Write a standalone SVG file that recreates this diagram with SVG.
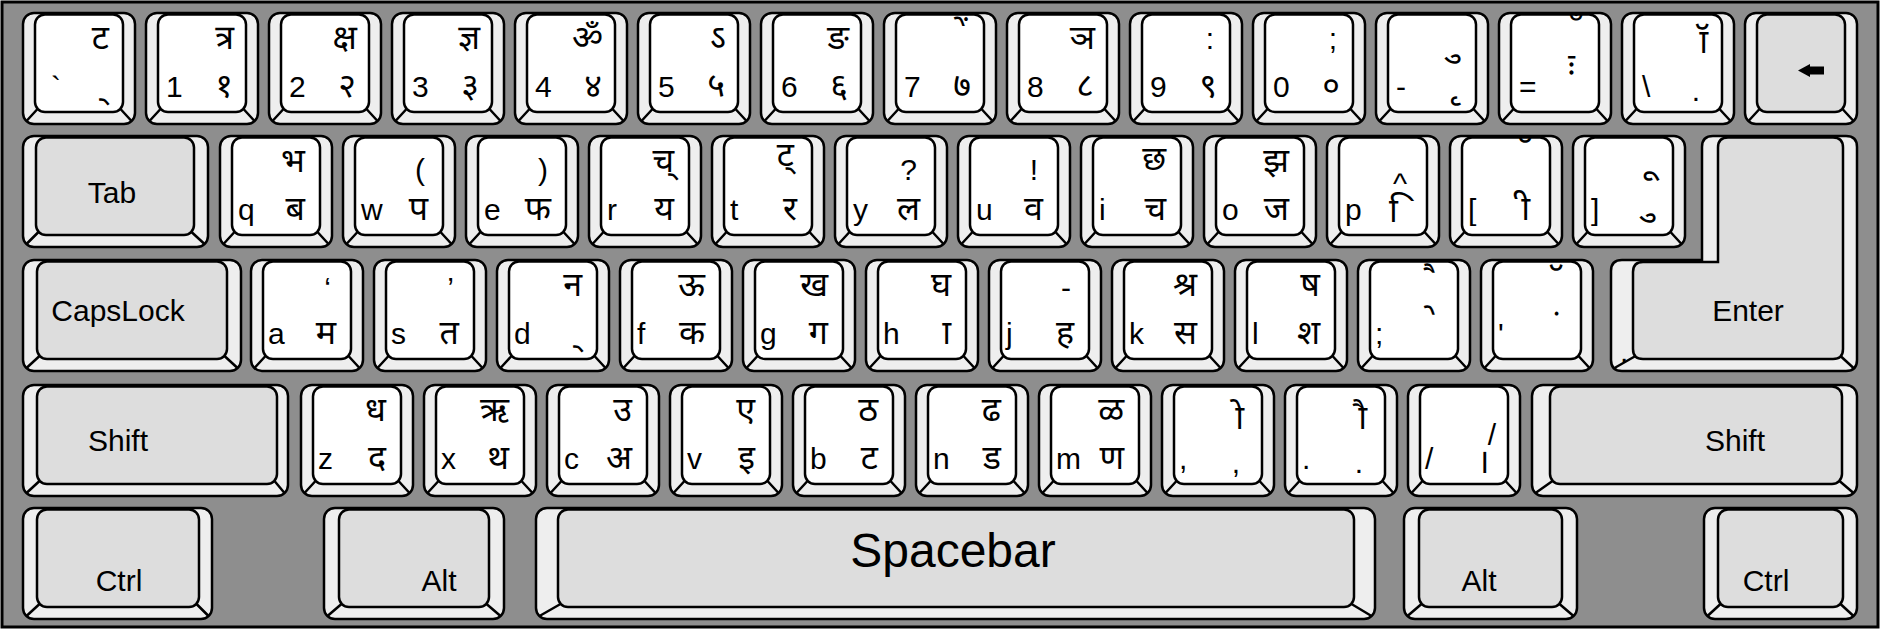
<svg xmlns="http://www.w3.org/2000/svg" width="1885" height="630" viewBox="0 0 1885 630">
<style>
.o{fill:#eeeeee;stroke:#000;stroke-width:2.5}
.f{fill:#ffffff;stroke:#000;stroke-width:2.5}
.g{fill:#dddddd;stroke:#000;stroke-width:2.5}
.d{fill:none;stroke:#000;stroke-width:2.5}
.l{font-family:"Liberation Sans",Arial,sans-serif;font-size:30px;fill:#000}
.r{font-family:"Liberation Sans",Arial,sans-serif;font-size:30px;fill:#000;text-anchor:end}
.h{font-family:"Noto Sans Devanagari","Lohit Devanagari","FreeSans","Liberation Sans",sans-serif;font-size:34px;fill:#000;text-anchor:end}
.hs{font-family:"Noto Sans Devanagari","Lohit Devanagari","FreeSans","Liberation Sans",sans-serif;font-size:34px;fill:#000}
.s{font-family:"Liberation Sans",Arial,sans-serif;font-size:30px;fill:#000;text-anchor:middle}
.sp{font-family:"Liberation Sans",Arial,sans-serif;font-size:48px;fill:#000;text-anchor:middle}
</style>
<defs>
<g id="k">
<rect class="o" x="0" y="0" width="112" height="111" rx="11"/>
<rect class="f" x="12" y="1.5" width="88" height="97.5" rx="10"/>
<path class="d" d="M14.5,96 L3.5,108 M97.5,96 L108.5,108"/>
</g>
<g id="kg">
<rect class="o" x="0" y="0" width="112" height="111" rx="11"/>
<rect class="g" x="12" y="1.5" width="88" height="97.5" rx="10"/>
<path class="d" d="M14.5,96 L3.5,108 M97.5,96 L108.5,108"/>
</g>
</defs>
<rect id="frame" x="2" y="2" width="1876" height="625" fill="#8e8e8e" stroke="#000" stroke-width="3"/>

<g id="row1">
<g id="key-grave" transform="translate(23,13)"><use href="#k"/><text class="l" x="28" y="84">`</text><text class="h" x="82" y="84">&#160;्</text><text class="h" x="86" y="36">ट</text></g>
<g id="key-1" transform="translate(146,13)"><use href="#k"/><text class="l" x="20" y="84">1</text><text class="h" x="87" y="84">१</text><text class="h" x="88" y="36">त्र</text></g>
<g id="key-2" transform="translate(269,13)"><use href="#k"/><text class="l" x="20" y="84">2</text><text class="h" x="87" y="84">२</text><text class="h" x="88" y="36">क्ष</text></g>
<g id="key-3" transform="translate(392,13)"><use href="#k"/><text class="l" x="20" y="84">3</text><text class="h" x="87" y="84">३</text><text class="h" x="88" y="36">ज्ञ</text></g>
<g id="key-4" transform="translate(515,13)"><use href="#k"/><text class="l" x="20" y="84">4</text><text class="h" x="87" y="84">४</text><text class="h" x="88" y="36">ॐ</text></g>
<g id="key-5" transform="translate(638,13)"><use href="#k"/><text class="l" x="20" y="84">5</text><text class="h" x="87" y="84">५</text><text class="h" x="88" y="36">ऽ</text></g>
<g id="key-6" transform="translate(761,13)"><use href="#k"/><text class="l" x="20" y="84">6</text><text class="h" x="87" y="84">६</text><text class="h" x="88" y="36">ङ</text></g>
<g id="key-7" transform="translate(884,13)"><use href="#k"/><text class="l" x="20" y="84">7</text><text class="h" x="87" y="84">७</text><text class="h" x="84" y="34">&#160;ें</text></g>
<g id="key-8" transform="translate(1007,13)"><use href="#k"/><text class="l" x="20" y="84">8</text><text class="h" x="87" y="84">८</text><text class="h" x="88" y="36">ञ</text></g>
<g id="key-9" transform="translate(1130,13)"><use href="#k"/><text class="l" x="20" y="84">9</text><text class="h" x="87" y="84">९</text><text class="r" x="84" y="36">:</text></g>
<g id="key-0" transform="translate(1253,13)"><use href="#k"/><text class="l" x="20" y="84">0</text><text class="h" x="87" y="84">०</text><text class="r" x="84" y="36">;</text></g>
<g id="key-minus" transform="translate(1376,13)"><use href="#k"/><text class="l" x="20" y="84">-</text><text class="h" x="84" y="84">&#160;ृ</text><text class="h" x="84" y="42">&#160;ु</text></g>
<g id="key-equal" transform="translate(1499,13)"><use href="#k"/><text class="l" x="20" y="84">=</text><text class="h" x="76" y="64">&#160;ः</text><text class="h" x="82" y="30">&#160;ँ</text></g>
<g id="key-backslash" transform="translate(1622,13)"><use href="#k"/><text class="l" x="20" y="84">\</text><text class="r" x="78" y="88">.</text><text class="h" x="86" y="40">&#160;ॉ</text></g>
<g id="key-backspace" transform="translate(1745,13)"><use href="#kg"/><path d="M53,57.5 L65,51 V53.5 H79 V61.5 H65 V64 Z" fill="#000"/></g>
</g>

<g id="row2">
<g id="key-tab" transform="translate(23,136)"><rect class="o" x="0" y="0" width="185" height="111" rx="11"/><rect class="g" x="13" y="1.5" width="158" height="97.5" rx="10"/><path class="d" d="M15.5,96 L3.5,108 M168.5,96 L181.5,108"/><text class="s" x="89" y="67">Tab</text></g>
<g id="key-q" transform="translate(220,136)"><use href="#k"/><text class="l" x="18" y="84">q</text><text class="h" x="85" y="84">ब</text><text class="h" x="85" y="36">भ</text></g>
<g id="key-w" transform="translate(343,136)"><use href="#k"/><text class="l" x="18" y="84">w</text><text class="h" x="85" y="84">प</text><text class="r" x="82" y="44">(</text></g>
<g id="key-e" transform="translate(466,136)"><use href="#k"/><text class="l" x="18" y="84">e</text><text class="h" x="85" y="84">फ</text><text class="r" x="82" y="44">)</text></g>
<g id="key-r" transform="translate(589,136)"><use href="#k"/><text class="l" x="18" y="84">r</text><text class="h" x="85" y="84">य</text><text class="h" x="85" y="36">च्</text></g>
<g id="key-t" transform="translate(712,136)"><use href="#k"/><text class="l" x="18" y="84">t</text><text class="h" x="85" y="84">र</text><text class="h" x="82" y="30">ट्</text></g>
<g id="key-y" transform="translate(835,136)"><use href="#k"/><text class="l" x="18" y="84">y</text><text class="h" x="85" y="84">ल</text><text class="r" x="82" y="44">?</text></g>
<g id="key-u" transform="translate(958,136)"><use href="#k"/><text class="l" x="18" y="84">u</text><text class="h" x="85" y="84">व</text><text class="r" x="80" y="44">!</text></g>
<g id="key-i" transform="translate(1081,136)"><use href="#k"/><text class="l" x="18" y="84">i</text><text class="h" x="85" y="84">च</text><text class="h" x="85" y="34">छ</text></g>
<g id="key-o" transform="translate(1204,136)"><use href="#k"/><text class="l" x="18" y="84">o</text><text class="h" x="85" y="84">ज</text><text class="h" x="85" y="36">झ</text></g>
<g id="key-p" transform="translate(1327,136)"><use href="#k"/><text class="l" x="18" y="84">p</text><text class="hs" x="62" y="86">&#160;ि</text><text class="l" x="66" y="58">^</text></g>
<g id="key-lbracket" transform="translate(1450,136)"><use href="#k"/><text class="l" x="18" y="84">[</text><text class="h" x="80" y="84">&#160;ी</text><text class="h" x="80" y="30">&#160;ॅ</text></g>
<g id="key-rbracket" transform="translate(1573,136)"><use href="#k"/><text class="l" x="18" y="84">]</text><text class="h" x="82" y="78">&#160;ु</text><text class="h" x="82" y="36">&#160;ू</text></g>
<g id="key-enter"><path class="o" d="M1713,136 H1846 Q1857,136 1857,147 V360 Q1857,371 1846,371 H1622 Q1611,371 1611,360 V271 Q1611,260 1622,260 H1702 V147 Q1702,136 1713,136 Z"/><path class="g" d="M1728,137.5 H1833 Q1843,137.5 1843,147.5 V349 Q1843,359 1833,359 H1643 Q1633,359 1633,349 V272 Q1633,262 1643,262 H1718 V147.5 Q1718,137.5 1728,137.5 Z"/><path class="d" d="M1635.5,356 L1614.5,368 M1840.5,356 L1853.5,368"/><text class="s" x="1748" y="321" font-size="33">Enter</text><text class="l" x="1620" y="362" font-size="18">.</text></g>
</g>

<g id="row3">
<g id="key-capslock" transform="translate(23,260)"><rect class="o" x="0" y="0" width="218" height="111" rx="11"/><rect class="g" x="14" y="1.5" width="190" height="97.5" rx="10"/><path class="d" d="M16.5,96 L3.5,108 M201.5,96 L214.5,108"/><text class="s" x="95" y="61" font-size="32">CapsLock</text></g>
<g id="key-a" transform="translate(251,260)"><use href="#k"/><text class="l" x="17" y="84">a</text><text class="h" x="85" y="84">म</text><text class="r" x="80" y="38">‘</text></g>
<g id="key-s" transform="translate(374,260)"><use href="#k"/><text class="l" x="17" y="84">s</text><text class="h" x="85" y="84">त</text><text class="r" x="80" y="38">’</text></g>
<g id="key-d" transform="translate(497,260)"><use href="#k"/><text class="l" x="17" y="84">d</text><text class="h" x="82" y="84">&#160;्</text><text class="h" x="85" y="36">न</text></g>
<g id="key-f" transform="translate(620,260)"><use href="#k"/><text class="l" x="17" y="84">f</text><text class="h" x="85" y="84">क</text><text class="h" x="85" y="36">ऊ</text></g>
<g id="key-g" transform="translate(743,260)"><use href="#k"/><text class="l" x="17" y="84">g</text><text class="h" x="85" y="84">ग</text><text class="h" x="85" y="36">ख</text></g>
<g id="key-h" transform="translate(866,260)"><use href="#k"/><text class="l" x="17" y="84">h</text><text class="h" x="85" y="84">&#160;ा</text><text class="h" x="85" y="36">घ</text></g>
<g id="key-j" transform="translate(989,260)"><use href="#k"/><text class="l" x="17" y="84">j</text><text class="h" x="85" y="84">ह</text><text class="r" x="82" y="38">-</text></g>
<g id="key-k" transform="translate(1112,260)"><use href="#k"/><text class="l" x="17" y="84">k</text><text class="h" x="85" y="84">स</text><text class="h" x="85" y="36">श्र</text></g>
<g id="key-l" transform="translate(1235,260)"><use href="#k"/><text class="l" x="17" y="84">l</text><text class="h" x="85" y="84">श</text><text class="h" x="85" y="36">ष</text></g>
<g id="key-semicolon" transform="translate(1358,260)"><use href="#k"/><text class="l" x="17" y="84">;</text><text class="h" x="80" y="76">&#160;े</text><text class="h" x="80" y="34">&#160;ै</text></g>
<g id="key-quote" transform="translate(1481,260)"><use href="#k"/><text class="l" x="17" y="84">'</text><text class="h" x="80" y="80">&#160;ं</text><text class="h" x="80" y="34">&#160;ॅ</text></g>
</g>

<g id="row4">
<g id="key-lshift" transform="translate(23,385)"><rect class="o" x="0" y="0" width="265" height="111" rx="11"/><rect class="g" x="14" y="1.5" width="240" height="97.5" rx="10"/><path class="d" d="M16.5,96 L3.5,108 M251.5,96 L261.5,108"/><text class="s" x="95" y="66" font-size="33">Shift</text></g>
<g id="key-z" transform="translate(301,385)"><use href="#k"/><text class="l" x="17" y="84">z</text><text class="h" x="85" y="84">द</text><text class="h" x="85" y="36">ध</text></g>
<g id="key-x" transform="translate(424,385)"><use href="#k"/><text class="l" x="17" y="84">x</text><text class="h" x="85" y="84">थ</text><text class="h" x="85" y="36">ऋ</text></g>
<g id="key-c" transform="translate(547,385)"><use href="#k"/><text class="l" x="17" y="84">c</text><text class="h" x="85" y="84">अ</text><text class="h" x="85" y="36">उ</text></g>
<g id="key-v" transform="translate(670,385)"><use href="#k"/><text class="l" x="17" y="84">v</text><text class="h" x="85" y="84">इ</text><text class="h" x="85" y="36">ए</text></g>
<g id="key-b" transform="translate(793,385)"><use href="#k"/><text class="l" x="17" y="84">b</text><text class="h" x="85" y="84">ट</text><text class="h" x="85" y="36">ठ</text></g>
<g id="key-n" transform="translate(916,385)"><use href="#k"/><text class="l" x="17" y="84">n</text><text class="h" x="85" y="84">ड</text><text class="h" x="85" y="36">ढ</text></g>
<g id="key-m" transform="translate(1039,385)"><use href="#k"/><text class="l" x="17" y="84">m</text><text class="h" x="85" y="84">ण</text><text class="h" x="85" y="36">ळ</text></g>
<g id="key-comma" transform="translate(1162,385)"><use href="#k"/><text class="l" x="17" y="84">,</text><text class="r" x="78" y="88">,</text><text class="h" x="82" y="44">&#160;ो</text></g>
<g id="key-period" transform="translate(1285,385)"><use href="#k"/><text class="l" x="17" y="84">.</text><text class="r" x="78" y="88">.</text><text class="h" x="82" y="44">&#160;ौ</text></g>
<g id="key-slash" transform="translate(1408,385)"><use href="#k"/><text class="l" x="17" y="84">/</text><text class="h" x="82" y="88">।</text><text class="r" x="88" y="60" font-size="56">/</text></g>
<g id="key-rshift" transform="translate(1532,385)"><rect class="o" x="0" y="0" width="325" height="111" rx="11"/><rect class="g" x="18" y="1.5" width="292" height="97.5" rx="10"/><path class="d" d="M20.5,96 L3.5,108 M307.5,96 L321.5,108"/><text class="s" x="203" y="66" font-size="33">Shift</text></g>
</g>

<g id="row5">
<g id="key-lctrl" transform="translate(23,508)"><rect class="o" x="0" y="0" width="189" height="111" rx="11"/><rect class="g" x="14" y="1.5" width="162" height="97.5" rx="10"/><path class="d" d="M16.5,96 L3.5,108 M173.5,96 L185.5,108"/><text class="s" x="96" y="83">Ctrl</text></g>
<g id="key-lalt" transform="translate(324,508)"><rect class="o" x="0" y="0" width="180" height="111" rx="11"/><rect class="g" x="15" y="1.5" width="150" height="97.5" rx="10"/><path class="d" d="M17.5,96 L3.5,108 M162.5,96 L176.5,108"/><text class="s" x="115" y="83">Alt</text></g>
<g id="key-space" transform="translate(536,508)"><rect class="o" x="0" y="0" width="839" height="111" rx="11"/><rect class="g" x="22" y="1.5" width="796" height="97.5" rx="10"/><path class="d" d="M24.5,96 L3.5,108 M815.5,96 L835.5,108"/><text class="sp" x="417" y="59">Spacebar</text></g>
<g id="key-ralt" transform="translate(1404,508)"><rect class="o" x="0" y="0" width="173" height="111" rx="11"/><rect class="g" x="15" y="1.5" width="143" height="97.5" rx="10"/><path class="d" d="M17.5,96 L3.5,108 M155.5,96 L169.5,108"/><text class="s" x="75" y="83">Alt</text></g>
<g id="key-rctrl" transform="translate(1704,508)"><rect class="o" x="0" y="0" width="153" height="111" rx="11"/><rect class="g" x="14" y="1.5" width="125" height="97.5" rx="10"/><path class="d" d="M16.5,96 L3.5,108 M136.5,96 L149.5,108"/><text class="s" x="62" y="83">Ctrl</text></g>
</g>
</svg>
